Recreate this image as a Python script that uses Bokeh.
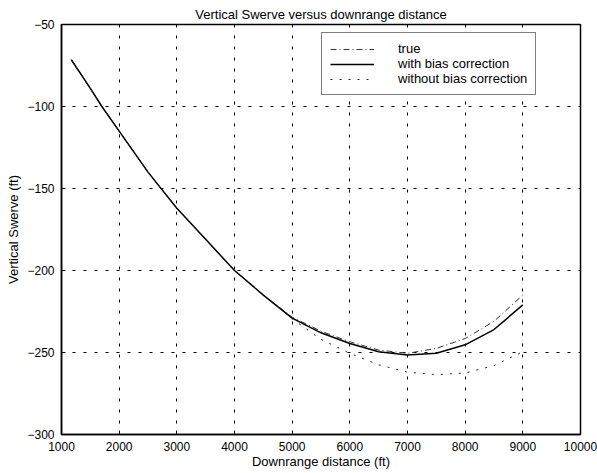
from bokeh.plotting import figure
from bokeh.models import Legend, LegendItem, FixedTicker
from bokeh.embed import file_html
from bokeh.resources import INLINE

# ---- data ----
x_dist = [1170, 1500, 1700, 2000, 2500, 3000, 3500, 4000, 4500, 5000, 5500,
          6000, 6500, 7000, 7500, 8000, 8500, 9000]
y_true = [-71.5, -89, -100, -115, -140, -162, -181, -200, -215, -228.5, -237,
          -243.5, -248.5, -250.5, -247.5, -241.5, -231, -215]
y_with_bias = [-71.5, -89, -100, -115, -140, -162, -181, -200, -215, -229, -238,
               -244.5, -249.5, -251.5, -250.5, -245.3, -236, -221]
y_without_bias = [-71.5, -89, -100, -115, -140, -162, -181, -200, -215, -229.5, -242,
                  -250.5, -257.5, -262, -263.5, -262.5, -258, -249.5]
x_ticks = [1000, 2000, 3000, 4000, 5000, 6000, 7000, 8000, 9000, 10000]
y_ticks = [-300, -250, -200, -150, -100, -50]

FONT = "Liberation Sans"

p = figure(frame_width=519, frame_height=410,
           x_range=(1000, 10000), y_range=(-300, -50),
           min_border_left=61, min_border_right=17, min_border_top=24, min_border_bottom=39,
           output_backend="svg", toolbar_location=None,
           title="Vertical Swerve versus downrange distance")

p.title.text_font = FONT
p.title.text_font_size = "13px"
p.title.text_font_style = "normal"
p.title.align = "center"
p.title.standoff = 6
p.title.text_color = "black"

p.outline_line_color = "black"
p.outline_line_width = 1.5
p.outline_line_alpha = 1.0

for ax in (p.xaxis[0], p.yaxis[0]):
    ax.axis_line_color = "black"
    ax.axis_line_width = 1.5
    ax.major_tick_in = 4
    ax.major_tick_out = 0
    ax.minor_tick_line_color = None
    ax.major_tick_line_color = "black"
    ax.major_label_text_font = FONT
    ax.major_label_text_font_size = "12px"
    ax.major_label_text_color = "black"
    ax.axis_label_text_font = FONT
    ax.axis_label_text_font_size = "13px"
    ax.axis_label_text_font_style = "normal"
    ax.axis_label_text_color = "black"

p.xaxis.ticker = FixedTicker(ticks=x_ticks)
p.yaxis.ticker = FixedTicker(ticks=y_ticks)
p.xaxis.axis_label = "Downrange distance (ft)"
p.yaxis.axis_label = "Vertical Swerve (ft)"
p.xaxis.major_label_standoff = 7
p.xaxis.axis_label_standoff = 0
p.yaxis.major_label_standoff = 7
p.yaxis.axis_label_standoff = 3

p.grid.grid_line_color = "black"
p.grid.grid_line_dash = "3 8"
p.grid.grid_line_width = 1

r_true = p.line(x_dist, y_true, line_color="#333333", line_width=1, line_dash="6 3 1 3")
r_with = p.line(x_dist, y_with_bias, line_color="black", line_width=1.5)
r_without = p.line(x_dist, y_without_bias, line_color="#222222", line_width=1, line_dash="2 7")

legend = Legend(items=[
    LegendItem(label="true", renderers=[r_true]),
    LegendItem(label="with bias correction", renderers=[r_with]),
    LegendItem(label="without bias correction", renderers=[r_without]),
], location=(260, 339))
legend.label_text_font = FONT
legend.label_text_font_size = "13px"
legend.label_text_color = "black"
legend.label_height = 12
legend.glyph_height = 12
legend.glyph_width = 44
legend.label_standoff = 24
legend.padding = 8
legend.spacing = 0
legend.margin = 0
legend.border_line_color = "black"
legend.border_line_width = 1
legend.background_fill_color = "white"
legend.background_fill_alpha = 1
p.add_layout(legend, "center")

open("out.html", "w").write(file_html(p, INLINE))
